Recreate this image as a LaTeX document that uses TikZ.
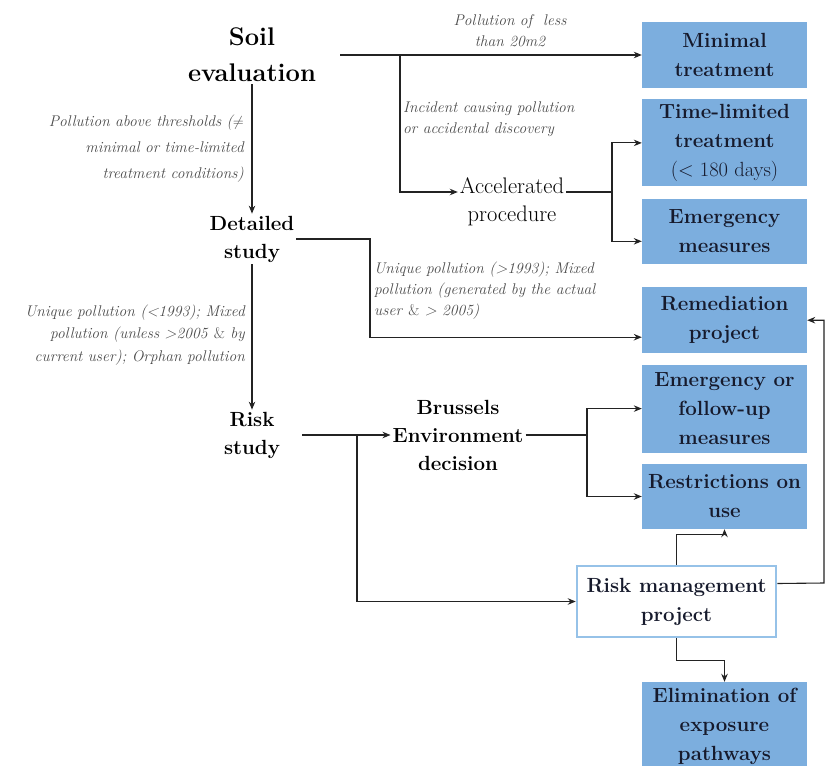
\documentclass[tikz,border=0pt]{standalone}
\usetikzlibrary{arrows.meta, positioning}
\definecolor{colBox}{RGB}{124,174,222}
\definecolor{colEdge}{RGB}{150,194,232}
\definecolor{colInk}{RGB}{22,26,44}
\definecolor{colNote}{RGB}{75,75,75}
\definecolor{colLine}{RGB}{35,35,35}

\begin{document}
\begin{tikzpicture}[
  x=1pt, y=-1pt,
  outcome/.style={rectangle, fill=colBox, minimum width=165pt, inner sep=2pt, text=colInk,
                  font=\fontsize{20.5}{29}\selectfont\bfseries, align=center},
  stage/.style={font=\fontsize{20.5}{28}\selectfont\bfseries, align=center, inner sep=2pt},
  note/.style={font=\fontsize{15.5}{21}\selectfont\itshape, text=colNote, inner sep=0pt},
  arr/.style={-{Stealth[length=8pt,width=6.5pt]}, line width=1.1pt, colLine},
  link/.style={line width=1.1pt, colLine},
]
\useasboundingbox (0,0) rectangle (826,765);

\node[outcome, minimum height=66pt] (minimal) at (724.5,55) {Minimal\\treatment};
\node[outcome, minimum height=87pt, below=11pt of minimal] (timelim) {Time-limited\\treatment\\\mdseries(< 180 days)};
\node[outcome, minimum height=65pt, below=12pt of timelim] (emerg) {Emergency\\measures};
\node[outcome, minimum height=66pt, below=23pt of emerg] (remed) {Remediation\\project};
\node[outcome, minimum height=88pt, below=11pt of remed] (emfol) {Emergency or\\follow-up\\measures};
\node[outcome, minimum height=65pt, below=11pt of emfol] (restr) {Restrictions on\\use};
\node[outcome, minimum height=88pt] (elim) at (724.5,726) {Elimination of\\exposure\\pathways};
\node[outcome, fill=white, draw=colEdge, line width=2.5pt, minimum width=199pt,
      minimum height=71pt] (riskmgmt) at (676.5,601.5) {Risk management\\project};

\node[stage, font=\fontsize{25.5}{36}\selectfont\bfseries] (soil) at (252,55) {Soil\\evaluation};
\node[stage] (detailed) at (252,239) {Detailed\\study};
\node[stage] (risk) at (252,435) {Risk\\study};
\node[stage, font=\fontsize{22.5}{28}\selectfont] (accel) at (512,202) {Accelerated\\procedure};
\node[stage] (brussels) at (458,435) {Brussels\\Environment\\decision};

\node[note, align=center] (lesstwenty) at (510,31) {Pollution of \ less\\than 20m2};
\node[note, align=left, anchor=north west] (incident) at (403,102) {Incident causing pollution\\or accidental discovery};
\node[note, align=right, anchor=east, font=\fontsize{15.5}{26}\selectfont\itshape] (abovethr) at (244,149)
  {Pollution above thresholds ($\neq$\\minimal or time-limited\\treatment conditions)};
\node[note, align=left, anchor=west] (uniqueafter) at (374,291)
  {Unique pollution (>1993); Mixed\\pollution (generated by the actual\\user \textup{\&} > 2005)};
\node[note, align=right, anchor=east, font=\fontsize{15.5}{22.5}\selectfont\itshape] (uniquebefore) at (245,335)
  {Unique pollution (<1993); Mixed\\pollution (unless >2005 \textup{\&} by\\current user); Orphan pollution};

\coordinate (soilsplit) at (400,55);
\coordinate (accsplit) at (612,192);
\coordinate (detsplit) at (370,239);
\coordinate (risksplit) at (357,435);
\coordinate (brsplit) at (587,435);
\coordinate (rmedge) at (824,583);

\draw[arr] ([xshift=22pt]soil.east) -- (minimal.west);
\draw[arr] (soilsplit) |- ([yshift=10pt]accel.west);
\draw[arr] (soil) -- (detailed);
\draw[link] ([yshift=10pt]accel.east) -- (accsplit);
\draw[arr] (accsplit) |- (timelim.west);
\draw[arr] (accsplit) |- ([yshift=-10pt]emerg.west);
\draw[arr] (detailed.east) -- (detsplit) |- ([yshift=-17pt]remed.west);
\draw[arr] (detailed) -- (risk);
\draw[arr] ([xshift=20pt]risk.east) -- (brussels.west);
\draw[arr] (risksplit) |- (riskmgmt.west);
\draw[link] (brussels.east) -- (brsplit);
\draw[arr] (brsplit) |- (emfol.west);
\draw[arr] (brsplit) |- (restr.west);
\draw[arr] (riskmgmt.north) -- ++(0,-30) -| (restr.south);
\draw[arr] (riskmgmt.south) -- ++(0,22) -| (elim.north);
\draw[arr] ([yshift=18pt]riskmgmt.east) -- (rmedge) |- (remed.east);
\end{tikzpicture}
\end{document}
